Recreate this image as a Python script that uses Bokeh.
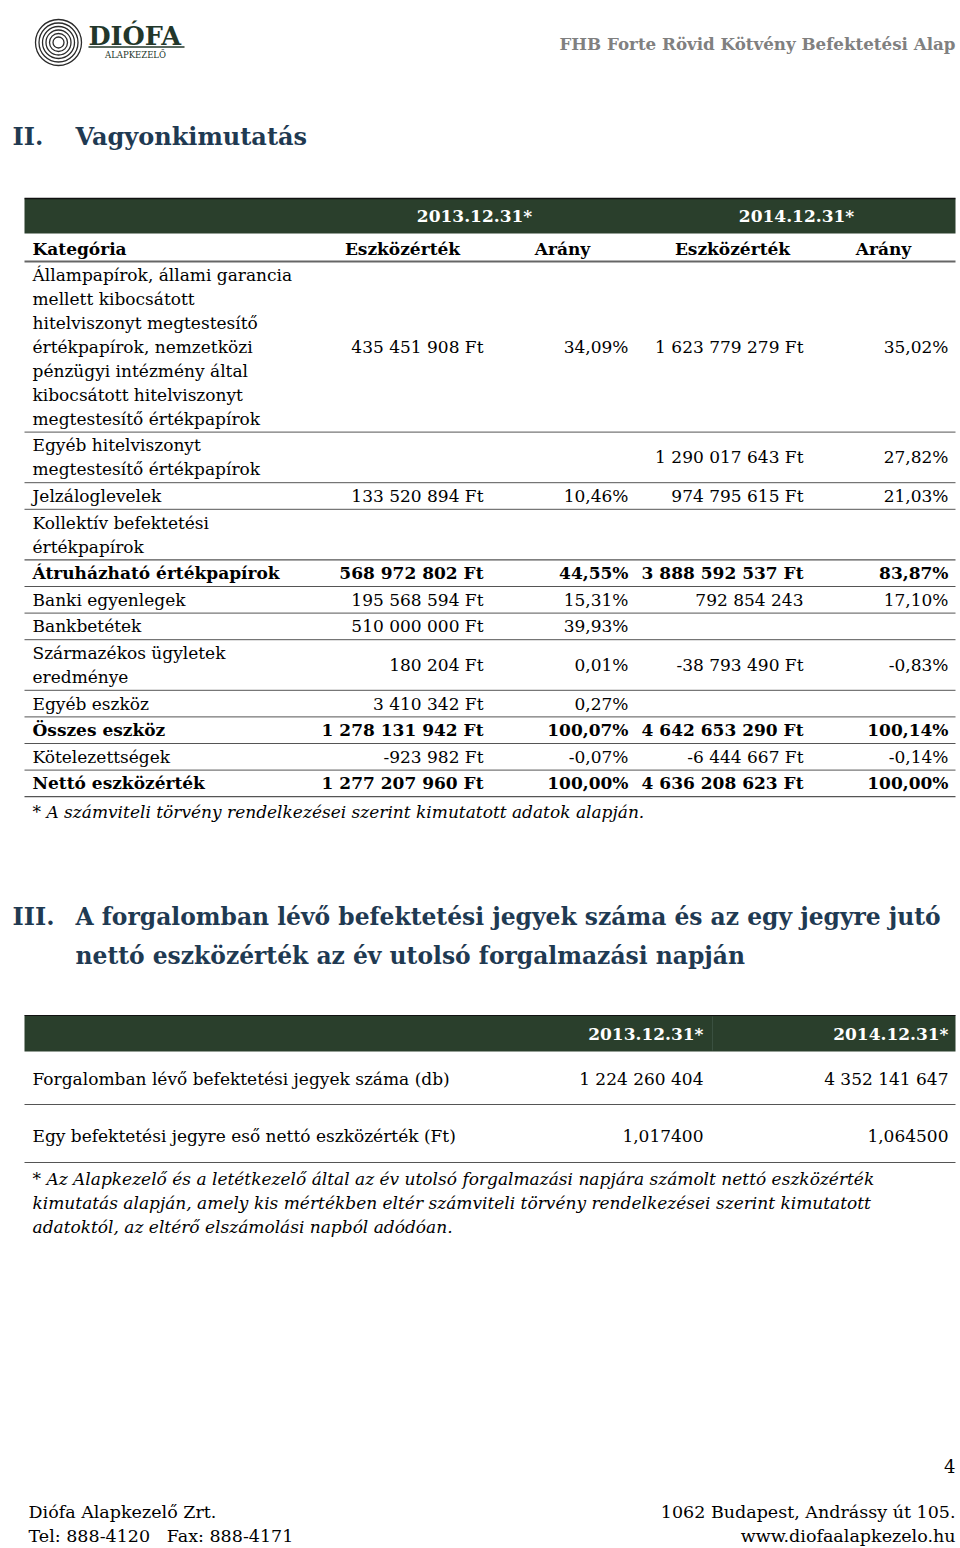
from bokeh.plotting import figure
from bokeh.models import Range1d
from bokeh.core.properties import value
from bokeh.embed import file_html
from bokeh.resources import INLINE

# ---------------- data ----------------
header_title = "FHB Forte Rövid Kötvény Befektetési Alap"
section2_num = "II."
section2_title = "Vagyonkimutatás"
dates = ["2013.12.31*", "2014.12.31*"]
sub_headers = ["Kategória", "Eszközérték", "Arány", "Eszközérték", "Arány"]

categories = [
    "Állampapírok, állami garancia\nmellett kibocsátott\nhitelviszonyt megtestesítő\nértékpapírok, nemzetközi\npénzügyi intézmény által\nkibocsátott hitelviszonyt\nmegtestesítő értékpapírok",
    "Egyéb hitelviszonyt\nmegtestesítő értékpapírok",
    "Jelzáloglevelek",
    "Kollektív befektetési\nértékpapírok",
    "Átruházható értékpapírok",
    "Banki egyenlegek",
    "Bankbetétek",
    "Származékos ügyletek\neredménye",
    "Egyéb eszköz",
    "Összes eszköz",
    "Kötelezettségek",
    "Nettó eszközérték",
]
value_2013 = ["435 451 908 Ft", "", "133 520 894 Ft", "", "568 972 802 Ft", "195 568 594 Ft",
              "510 000 000 Ft", "180 204 Ft", "3 410 342 Ft", "1 278 131 942 Ft", "-923 982 Ft",
              "1 277 207 960 Ft"]
share_2013 = ["34,09%", "", "10,46%", "", "44,55%", "15,31%", "39,93%", "0,01%", "0,27%",
              "100,07%", "-0,07%", "100,00%"]
value_2014 = ["1 623 779 279 Ft", "1 290 017 643 Ft", "974 795 615 Ft", "", "3 888 592 537 Ft",
              "792 854 243", "", "-38 793 490 Ft", "", "4 642 653 290 Ft", "-6 444 667 Ft",
              "4 636 208 623 Ft"]
share_2014 = ["35,02%", "27,82%", "21,03%", "", "83,87%", "17,10%", "", "-0,83%", "",
              "100,14%", "-0,14%", "100,00%"]
bold_rows = ["Átruházható értékpapírok", "Összes eszköz", "Nettó eszközérték"]
footnote1 = "* A számviteli törvény rendelkezései szerint kimutatott adatok alapján."

section3_num = "III."
section3_title = ["A forgalomban lévő befektetési jegyek száma és az egy jegyre jutó",
                  "nettó eszközérték az év utolsó forgalmazási napján"]
t2_labels = ["Forgalomban lévő befektetési jegyek száma (db)",
             "Egy befektetési jegyre eső nettó eszközérték (Ft)"]
t2_2013 = ["1 224 260 404", "1,017400"]
t2_2014 = ["4 352 141 647", "1,064500"]
footnote2 = ["* Az Alapkezelő és a letétkezelő által az év utolsó forgalmazási napjára számolt nettó eszközérték",
             "kimutatás alapján, amely kis mértékben eltér számviteli törvény rendelkezései szerint kimutatott",
             "adatoktól, az eltérő elszámolási napból adódóan."]
page_number = "4"
footer_left = ["Diófa Alapkezelő Zrt.", "Tel: 888-4120\u00a0\u00a0\u00a0Fax: 888-4171"]
footer_right = ["1062 Budapest, Andrássy út 105.", "www.diofaalapkezelo.hu"]
logo_name = "DIÓFA"
logo_sub = "ALAPKEZELŐ"

# ---------------- styles ----------------
SERIF = "DejaVu Serif"
GREEN = "#2a3f2c"
HEAD = "#1f3a52"
BODY = 17

p = figure(width=960, height=1548, x_range=Range1d(0, 960), y_range=Range1d(1548, 0),
           output_backend="svg", toolbar_location=None, min_border=0,
           x_axis_type=None, y_axis_type=None)
p.grid.visible = False
p.outline_line_color = None
p.background_fill_color = "white"
p.border_fill_color = "white"


def txt(x, y, s, size=BODY, align="left", style="normal", color="black", font=SERIF):
    p.text(x=[x], y=[y], text=[s], text_font=value(font), text_font_size=f"{size}px",
           text_align=align, text_baseline="middle", text_font_style=style, text_color=color)


def hline(x0, x1, y, color="#555555", w=1.0):
    p.segment(x0=[x0], x1=[x1], y0=[y], y1=[y], line_color=color, line_width=w)


# ---------------- logo & page header ----------------
for r in [23, 19.5, 16, 12.5, 9, 5.5]:
    p.circle(x=[58], y=[42], radius=r, fill_color=None, line_color="#2b2b2b", line_width=1.3)
txt(88, 35, logo_name, size=25.5, style="bold", color="#22372a")
hline(88, 184, 46.5, color="#22372a", w=1.5)
txt(135, 54, logo_sub, size=8.5, align="center", color="#22372a")
txt(955, 43, header_title, size=16.7, align="right", style="bold", color="#808080")

# ---------------- section II ----------------
txt(12, 136, section2_num, size=24, style="bold", color=HEAD)
txt(75, 136, section2_title, size=24, style="bold", color=HEAD)

L, R = 24, 955
p.quad(left=[L], right=[R], top=[198], bottom=[233], fill_color=GREEN, line_color=None)
hline(L, R, 198, color="#111111", w=1.5)
txt(474, 215, dates[0], size=BODY, align="center", style="bold", color="white")
txt(796, 215, dates[1], size=BODY, align="center", style="bold", color="white")

txt(32, 248, sub_headers[0], style="bold")
for s, cx in zip(sub_headers[1:], [402, 562, 732, 883]):
    txt(cx, 248, s, align="center", style="bold")
hline(L, R, 261, color="#666666", w=2)

col_right = [483, 628, 803, 948]
LINE = 24.0
PAD = 2.6
y = 261.0
for i, cat in enumerate(categories):
    lines = cat.split("\n")
    h = LINE * len(lines) + PAD
    st = "bold" if cat in bold_rows else "normal"
    for k, ln in enumerate(lines):
        txt(32, y + PAD / 2 + LINE * k + LINE / 2, ln, style=st)
    cy = y + h / 2
    for s, xr in zip([value_2013[i], share_2013[i], value_2014[i], share_2014[i]], col_right):
        if s:
            txt(xr, cy, s, align="right", style=st)
    y += h
    hline(L, R, y, color="#555555", w=1.3 if i in (3, len(categories) - 1) else 1)

txt(32, y + 15, footnote1, style="italic")

# ---------------- section III ----------------
txt(12, 916, section3_num, size=24, style="bold", color=HEAD)
txt(75, 916, section3_title[0], size=23.4, style="bold", color=HEAD)
txt(75, 955, section3_title[1], size=23.4, style="bold", color=HEAD)

p.quad(left=[L], right=[R], top=[1015], bottom=[1051], fill_color=GREEN, line_color=None)
hline(L, R, 1015, color="#111111", w=1.2)
p.segment(x0=[712], x1=[712], y0=[1016], y1=[1050], line_color="#3a5040", line_width=1)
txt(703, 1033, dates[0], align="right", style="bold", color="white")
txt(948, 1033, dates[1], align="right", style="bold", color="white")

row_y = [1078, 1135]
for lab, a, b, ry in zip(t2_labels, t2_2013, t2_2014, row_y):
    txt(32, ry, lab)
    txt(703, ry, a, align="right")
    txt(948, ry, b, align="right")
hline(L, R, 1104, color="#555555", w=1)
hline(L, R, 1162, color="#555555", w=1)

for k, ln in enumerate(footnote2):
    txt(32, 1178 + 24 * k, ln, style="italic")

# ---------------- footer ----------------
txt(955, 1465, page_number, size=18, align="right")
txt(28, 1511, footer_left[0], size=17.5)
txt(28, 1535, footer_left[1], size=17.5)
txt(955, 1511, footer_right[0], size=17.5, align="right")
txt(955, 1535, footer_right[1], size=17.5, align="right")

open("out.html", "w").write(file_html(p, INLINE))
